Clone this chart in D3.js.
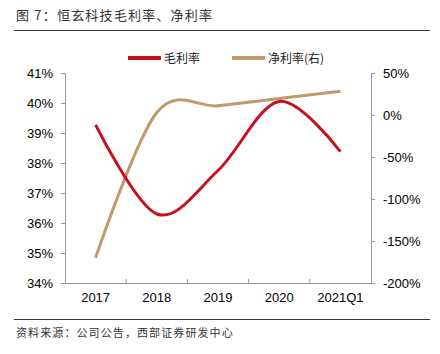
<!DOCTYPE html>
<html lang="zh">
<head>
<meta charset="UTF-8">
<title>恒玄科技毛利率、净利率</title>
<script src="https://d3js.org/d3.v7.min.js"></script>
<style>
  body { margin: 0; background: #fff; }
  svg { display: block; }
  .tick text { font-family: "Liberation Sans", Arial, sans-serif; font-size: 13px; fill: #000; }
  .cn { font-family: "Noto Sans CJK SC", sans-serif; }
</style>
</head>
<body>
<svg id="chart" width="440" height="354"></svg>
<script>
const years = ['2017', '2018', '2019', '2020', '2021Q1'];
const grossMargin = [39.27, 36.3, 37.75, 40.05, 38.38];   // 毛利率, %
const netMargin = [-170, 3, 11, 19.6, 28.2];              // 净利率(右), %
const leftTicks = [34, 35, 36, 37, 38, 39, 40, 41];
const rightTicks = [-200, -150, -100, -50, 0, 50];

const svg = d3.select('#chart');
const plotL = 65, plotR = 371, plotT = 73, plotB = 283;

const x = d3.scaleBand().domain(years).range([plotL, plotR]);
const yL = d3.scaleLinear().domain([34, 41]).range([plotB, plotT]);
const yR = d3.scaleLinear().domain([-200, 50]).range([plotB, plotT]);

// title + rules
svg.append('text').attr('class', 'cn')
  .attr('x', 16).attr('y', 20)
  .attr('font-size', 13).attr('letter-spacing', 1.2).attr('fill', '#333')
  .text('图 7：恒玄科技毛利率、净利率');
svg.append('line').attr('x1', 14).attr('x2', 430).attr('y1', 30.5).attr('y2', 30.5)
  .attr('stroke', '#333').attr('stroke-width', 1);
svg.append('line').attr('x1', 14).attr('x2', 430).attr('y1', 319.5).attr('y2', 319.5)
  .attr('stroke', '#333').attr('stroke-width', 1);
svg.append('text').attr('class', 'cn')
  .attr('x', 16).attr('y', 337)
  .attr('font-size', 11).attr('letter-spacing', 1.1).attr('fill', '#333')
  .text('资料来源：公司公告，西部证券研发中心');

// axes
const axL = svg.append('g').attr('transform', `translate(${plotL},0)`)
  .call(d3.axisLeft(yL).tickValues(leftTicks).tickFormat(d => d + '%').tickSizeOuter(0).tickSize(4).tickPadding(8));
const axR = svg.append('g').attr('transform', `translate(${plotR},0)`)
  .call(d3.axisRight(yR).tickValues(rightTicks).tickFormat(d => d + '%').tickSizeOuter(0).tickSize(4).tickPadding(8));
const axB = svg.append('g').attr('transform', `translate(0,${plotB})`)
  .call(d3.axisBottom(x).tickSize(0).tickPadding(10));
// category separators on the x axis
axB.selectAll('.sep').data(years.slice(1)).enter().append('line')
  .attr('x1', d => x(d)).attr('x2', d => x(d)).attr('y1', 0).attr('y2', -4)
  .attr('stroke', '#999');
[axL, axR, axB].forEach(a => {
  a.selectAll('.domain').attr('stroke', '#999');
  a.selectAll('.tick line').attr('stroke', '#999');
});
axB.selectAll('.tick text').attr('dy', '0.71em');

// lines (excel-style smoothing)
const cx = d => x(d) + x.bandwidth() / 2;
const lineL = d3.line().x((d, i) => cx(years[i])).y(d => yL(d)).curve(d3.curveCardinal.tension(0));
const lineR = d3.line().x((d, i) => cx(years[i])).y(d => yR(d)).curve(d3.curveCardinal.tension(0));

svg.append('path').datum(netMargin).attr('d', lineR)
  .attr('fill', 'none').attr('stroke', '#C09A6E').attr('stroke-width', 3);
svg.append('path').datum(grossMargin).attr('d', lineL)
  .attr('fill', 'none').attr('stroke', '#C8101E').attr('stroke-width', 3);

// legend
const legend = [
  { name: '毛利率', color: '#C8101E', x: 128 },
  { name: '净利率(右)', color: '#C09A6E', x: 232 }
];
const lg = svg.append('g').selectAll('g').data(legend).enter().append('g')
  .attr('transform', d => `translate(${d.x},58)`);
lg.append('line').attr('x1', 0).attr('x2', 33).attr('stroke', d => d.color).attr('stroke-width', 4);
lg.append('text').attr('class', 'cn').attr('x', 36).attr('y', 4.5)
  .attr('font-size', 12).attr('fill', '#222').text(d => d.name);
</script>
</body>
</html>
